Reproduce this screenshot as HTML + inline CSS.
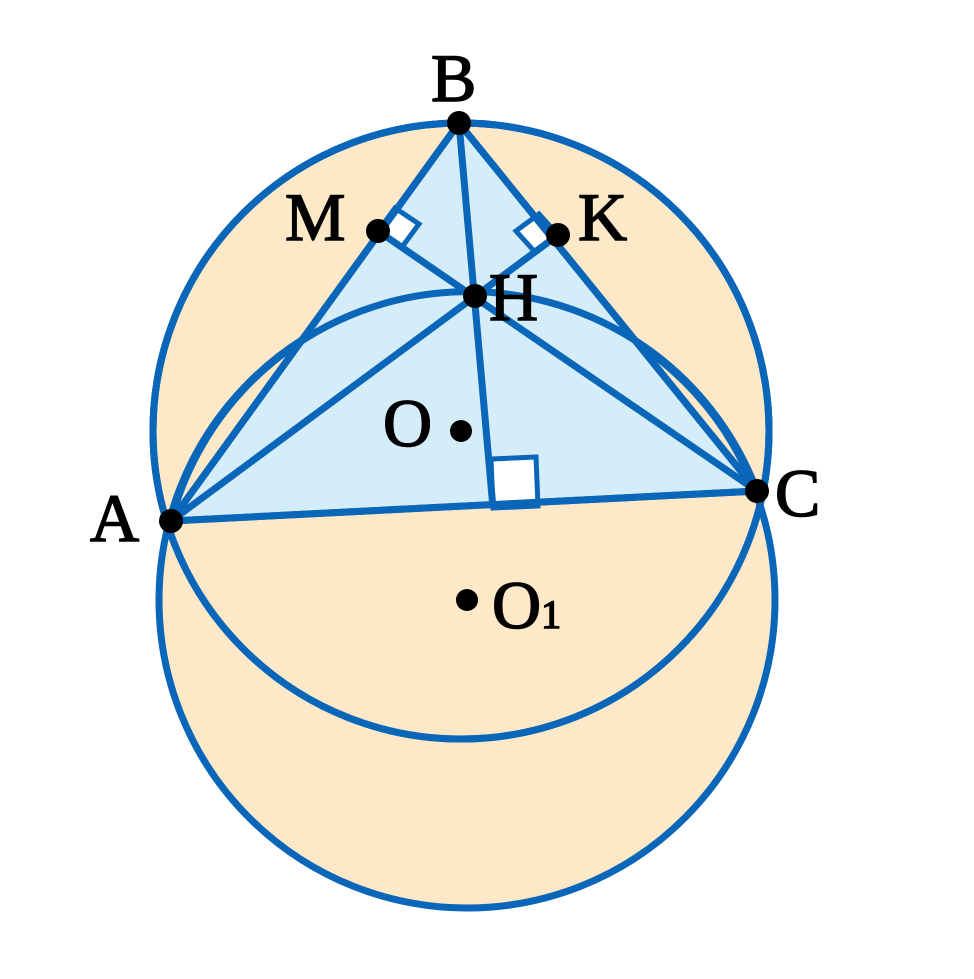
<!DOCTYPE html>
<html><head><style>html,body{margin:0;padding:0;background:#fff}</style></head>
<body>
<svg width="974" height="974" viewBox="0 0 974 974" xmlns="http://www.w3.org/2000/svg">
<g stroke="#0a66b8" stroke-width="7" fill="#fde9c8">
<circle cx="461" cy="431" r="308"/>
<circle cx="467" cy="600" r="308"/>
<circle cx="461" cy="431" r="308" fill="none"/>
<polygon points="171,521 459,123 757,491" fill="#d5ecf9"/>
<path d="M171,521 A308,308 0 0 1 757,491" fill="none"/>
<circle cx="461" cy="431" r="308" fill="none"/>
<polygon points="493,508 538,506 536,457 491,459" fill="#fff" stroke-width="5"/>
<polygon points="378,231 395,208 419,224 402,247" fill="#fff" stroke-width="5"/>
<polygon points="558,235 539,214 516,231 535,252" fill="#fff" stroke-width="5"/>
<line x1="171" y1="521" x2="558" y2="235"/>
<line x1="757" y1="491" x2="378" y2="231"/>
<line x1="459" y1="123" x2="493" y2="508"/>
<polygon points="171,521 459,123 757,491" fill="none"/>
</g>
<g fill="#000">
<circle cx="459" cy="123" r="12"/><circle cx="378" cy="231" r="12"/><circle cx="558" cy="235" r="12"/>
<circle cx="475" cy="296" r="12"/><circle cx="461" cy="431" r="11"/><circle cx="171" cy="521" r="12"/>
<circle cx="757" cy="491" r="12"/><circle cx="467" cy="600" r="11"/>
</g>
<g font-family="Liberation Serif, serif" font-size="68" fill="#000" stroke="#000" stroke-width="1.5">
<text x="431" y="101">B</text>
<text x="285" y="240">M</text>
<text x="578" y="240">K</text>
<text x="489" y="320">H</text>
<text x="383" y="446">O</text>
<text x="775" y="516">C</text>
<text x="90" y="541">A</text>
<text x="492" y="628">O<tspan font-size="40">1</tspan></text>
</g>
</svg>
</body></html>
